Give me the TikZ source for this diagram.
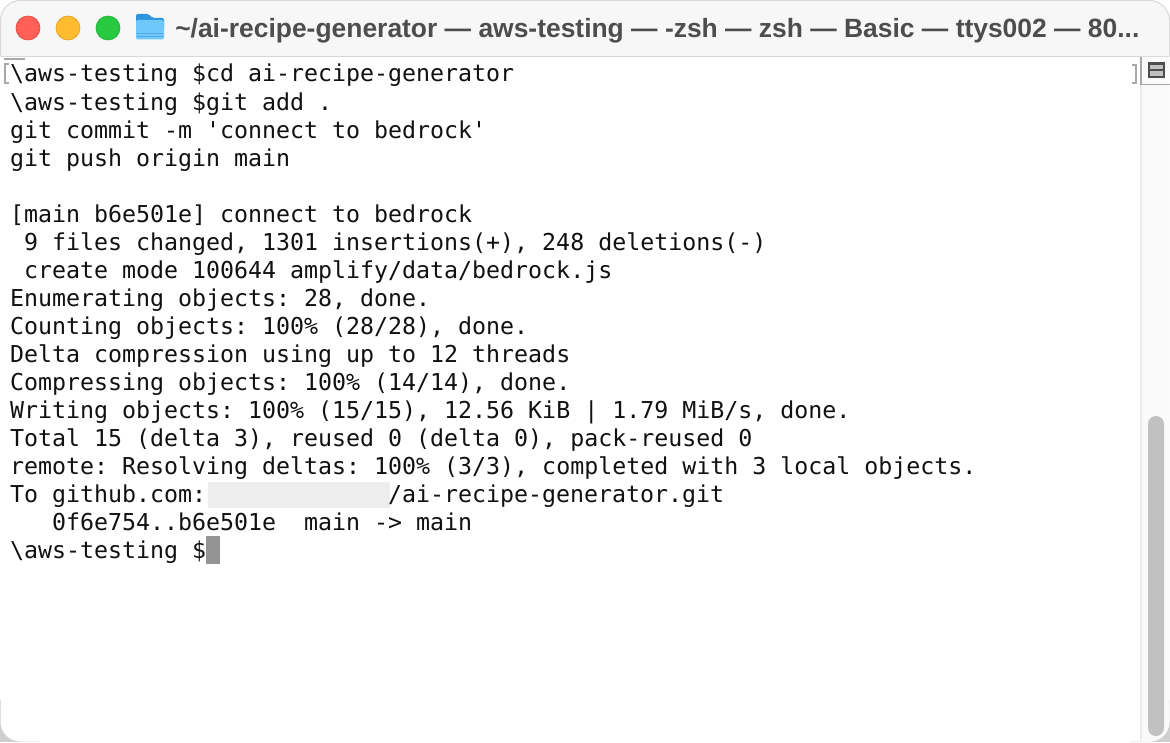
\documentclass[tikz,border=0pt]{standalone}
\usepackage{fontspec}
\setmainfont{Liberation Sans}
\newfontfamily\termfont{DejaVu Sans Mono}
\frenchspacing
\definecolor{chromebg}{HTML}{F7F7F7}
\definecolor{sepline}{HTML}{D9D9D9}
\definecolor{cornerbg}{HTML}{CFCFCF}
\definecolor{titletxt}{HTML}{4D4D4D}
\definecolor{termtxt}{HTML}{111111}
\definecolor{thumb}{HTML}{C1C1C1}
\definecolor{track}{HTML}{FAFAFA}
\definecolor{marks}{HTML}{A8A8A8}
\tikzset{
  x=0.75pt,y=-0.75pt,
  termline/.style={anchor=base west,inner sep=0pt,outer sep=0pt,yshift=-0.75pt,text=termtxt,font=\termfont\fontsize{17.45pt}{21pt}\selectfont},
  light/.style={circle,minimum size=18pt,inner sep=0pt,line width=0.5pt},
  title/.style={anchor=base west,inner sep=0pt,text=titletxt,font=\bfseries\fontsize{19.82pt}{22pt}\selectfont},
  winshape/.style={rounded corners=15pt},
}
\begin{document}
\begin{tikzpicture}
\useasboundingbox (0,0) rectangle (1170,742);
\fill[white] (0,0) rectangle (1170,742);
% gray behind the lower window corners
\fill[cornerbg] (0,700) rectangle (40,742);
\fill[cornerbg] (1130,700) rectangle (1170,742);
% window body
\path[fill=white,winshape] (0.5,0.5) rectangle (1169.5,741.5);
\begin{scope}
\clip[winshape] (0.5,0.5) rectangle (1169.5,741.5);
\fill[chromebg] (0,0) rectangle (1170,56);
\draw[sepline,line width=1pt] (0,56.5) -- (1170,56.5);
% scroll track
\fill[track] (1140,57) rectangle (1170,742);
\draw[black!8,line width=1.5pt] (1141,85) -- (1141,742);
\end{scope}
% outline of the title bar
\draw[sepline,line width=0.75pt,winshape] (0.5,56) -- (0.5,0.5) -- (1169.5,0.5) -- (1169.5,56);
% split button
\draw[marks,line width=0.9pt] (1141,57) -- (1141,84.5) -- (1170,84.5);
\fill[titletxt] (1148,62) rectangle (1165,78);
\fill[thumb] (1150,65) rectangle (1163,69);
\fill[thumb] (1150,71.5) rectangle (1163,76);
% thumb
\fill[thumb,rounded corners=6pt] (1148,416) rectangle (1164,736);
% traffic lights
\node[light,draw={rgb,255:red,225;green,70;blue,65},fill={rgb,255:red,255;green,95;blue,87}] (closebtn) at (28,28) {};
\node[light,fill={rgb,255:red,254;green,188;blue,46},draw={rgb,255:red,225;green,160;blue,40}] (minbtn) at (68,28) {};
\node[light,fill={rgb,255:red,40;green,200;blue,64},draw={rgb,255:red,35;green,175;blue,55}] (zoombtn) at (108,28) {};
% folder icon
\fill[rounded corners=1.5pt,fill={rgb,255:red,46;green,148;blue,220}] (136,14) -- (149,14) -- (152,18) -- (164,18) -- (164,30) -- (136,30) -- cycle;
\fill[rounded corners=1.5pt,fill={rgb,255:red,112;green,200;blue,250}] (136,20) -- (164,20) -- (164,39.5) -- (136,39.5) -- cycle;
\draw[line width=0.4pt,color={rgb,255:red,80;green,170;blue,230}] (137,33.5) -- (163,33.5) (137,36.5) -- (163,36.5);
% title
\node[title] (titlelabel) at (175,38) {\textasciitilde/ai-recipe-generator — aws-testing — -zsh — zsh — Basic — ttys002 — 80...};
% margin marks
\draw[marks,line width=0.9pt] (9,64) -- (5,64) -- (5,83) -- (9,83);
\draw[marks,line width=0.9pt] (4,59) -- (25,59);
\draw[marks,line width=0.9pt] (1132,65) -- (1136,65) -- (1136,83) -- (1132,83);
% text lines
\node[termline] (l01) at (10,81) {\textbackslash aws-testing \$cd ai-recipe-generator};
\node[termline] (l02) at (10,109) {\textbackslash aws-testing \$git add .};
\node[termline] (l03) at (10,137) {git commit -m 'connect to bedrock'};
\node[termline] (l04) at (10,165) {git push origin main};
\node[termline] (l06) at (10,221) {[main b6e501e] connect to bedrock};
\node[termline] (l07) at (24,249) {9 files changed, 1301 insertions(+), 248 deletions(-)};
\node[termline] (l08) at (24,277) {create mode 100644 amplify/data/bedrock.js};
\node[termline] (l09) at (10,305) {Enumerating objects: 28, done.};
\node[termline] (l10) at (10,333) {Counting objects: 100\% (28/28), done.};
\node[termline] (l11) at (10,361) {Delta compression using up to 12 threads};
\node[termline] (l12) at (10,389) {Compressing objects: 100\% (14/14), done.};
\node[termline] (l13) at (10,417) {Writing objects: 100\% (15/15), 12.56 KiB | 1.79 MiB/s, done.};
\node[termline] (l14) at (10,445) {Total 15 (delta 3), reused 0 (delta 0), pack-reused 0};
\node[termline] (l15) at (10,473) {remote: Resolving deltas: 100\% (3/3), completed with 3 local objects.};
\node[termline] (l16) at (10,501) {To github.com:};
\fill[black!7] (208,482) rectangle (390,508);
\node[termline] (l16b) at (388,501) {/ai-recipe-generator.git};
\node[termline] (l17) at (52,529) {0f6e754..b6e501e\ \ main -> main};
\node[termline] (l18) at (10,557) {\textbackslash aws-testing \$};
\fill[black!42] (206,536) rectangle (220,564);
\end{tikzpicture}
\end{document}
